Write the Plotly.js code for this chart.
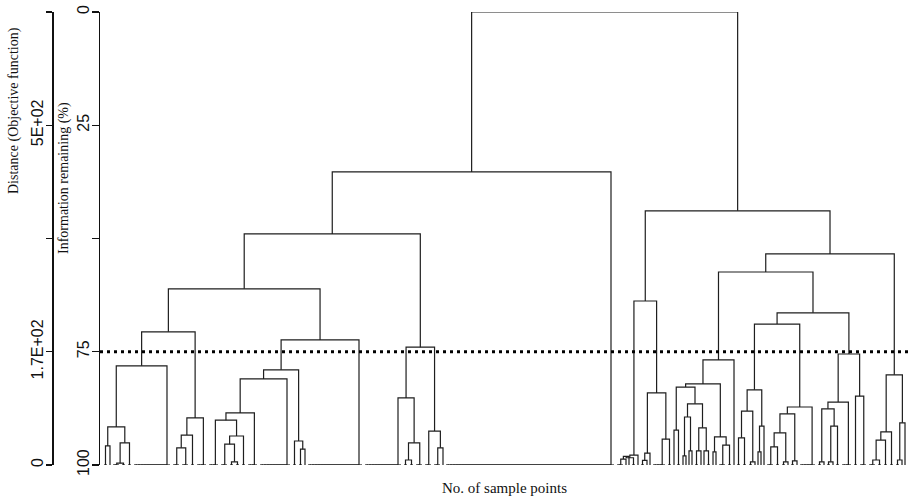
<!DOCTYPE html>
<html><head><meta charset="utf-8">
<script src="https://cdn.plot.ly/plotly-3.0.1.min.js"></script>
<style>html,body{margin:0;padding:0;background:#fff}</style>
</head><body><div id="chart" style="width:909px;height:502px"></div>
<script>
// Dendrogram.
// A node is [mergeHeight, left, right]; mergeHeight is "Information remaining (%)".
// A plain number k is a group of k samples that join at distance 0 (100 %).
const clusterA = [61.1,
  [70.6,
    [78.1,
      [91.6, [95.8, 2, 1], [95.1, [99.6, 3, 2], 2]],
      13],
    [89.6, [93.4, [96.2, 3, 3], 2], 4]],
  [72.4,
    [79.0,
      [81.0,
        [88.5, [90.1, 4, [93.6, [95.4, 3, [99.3, 2, 2]], 2]], 4],
        11],
      [94.7, 2, [96.5, 2, 1]]],
    19]];
const clusterB = [74.0,
  [85.2, 13, [95.1, [98.9, 2, 2], 3]],
  [92.5, 3, [96.2, 3, 1]]];
const leftFlatGroup = 57;
const clusterC = [63.8,
  [97.8, [98.4, [98.1, [98.7, 3, 1], 1], 2], 1],
  [84.1, [97.4, [99.0, 2, 1], 1], [94.3, 5, 2]]];
const clusterD = [57.4,
  [76.8,
    [82.1,
      [82.8,
        [92.3, 1, 2],
        [86.5,
          [89.4, [98.0, 1, 1], [96.9, 1, 1]],
          [91.8, [96.9, 2, 1], [96.9, 1, 2]]]],
      [93.8, [97.1, 1, 1], [95.6, 3, 2]]],
    1],
  [66.4,
    [68.9,
      [83.4,
        [88.1, [94.0, 2, 2], [99.3, 2, 1]],
        [91.4, [97.1, 1, 1], 1]],
      [87.2,
        [88.7, [92.9, [96.0, 3, 2], [99.3, 2, 1]], [99.1, 2, 1]],
        6]],
    [75.5,
      [86.1, [87.6, [99.3, 2, 1], [91.4, [99.3, 2, 1], 2]], 4],
      [84.8, 2, 3]]]];
const clusterE = [80.1,
  [92.7, [94.5, [98.9, 3, 2], 2], 2],
  [90.7, [98.9, 2, 1], 1]];
const branchHeights = {left: 35.3, leftInner: 49.0, right: 43.9, rightInner: 53.4, root: 0};
const cutLevel = 75;
const infoTickVals = [0, 25, 50, 75, 100];
const infoTickText = ['0', '25', '', '75', '100'];
const distTickText = ['', '5E+02', '', '1.7E+02', '0'];

const tree = [branchHeights.root,
  [branchHeights.left, [branchHeights.leftInner, clusterA, clusterB], leftFlatGroup],
  [branchHeights.right, clusterC, [branchHeights.rightInner, clusterD, clusterE]]];

const xs = [], ys = [];
let cursor = 0;
function place(node) {
  if (typeof node === 'number') {
    let x = cursor;
    for (let i = 1; i < node; i++) {
      const nx = cursor + i;
      xs.push(x, nx, null); ys.push(100, 100, null);
      x = (x + nx) / 2;
    }
    cursor += node;
    return {x: x, h: 100};
  }
  const a = place(node[1]), b = place(node[2]), h = node[0];
  xs.push(a.x, a.x, b.x, b.x, null);
  ys.push(a.h, h, h, b.h, null);
  return {x: (a.x + b.x) / 2, h: h};
}
place(tree);
const nLeaves = cursor;

const serif = 'Liberation Serif, Times New Roman, serif';
const sans = 'Liberation Sans, Arial, sans-serif';

const data = [
  {type: 'scatter', mode: 'lines', x: xs, y: ys, line: {color: '#1e1e1e', width: 1.2},
   hoverinfo: 'skip', showlegend: false, connectgaps: false},
  {type: 'scatter', mode: 'lines', x: [null], y: [null], yaxis: 'y2', showlegend: false, hoverinfo: 'skip'}
];

const layout = {
  width: 909, height: 502,
  margin: {l: 52, r: 0, t: 12, b: 37},
  paper_bgcolor: '#fff', plot_bgcolor: '#fff',
  showlegend: false,
  xaxis: {domain: [48/857, 1], range: [-1.33, nLeaves + 0.33], showgrid: false, zeroline: false,
          showline: false, showticklabels: false, ticks: '',
          title: {text: 'No. of sample points', font: {family: serif, size: 15, color: '#111'}, standoff: 17},
          automargin: false},
  yaxis: {range: [100, 0], tickvals: infoTickVals, ticktext: infoTickText, tickangle: -90,
          ticks: 'outside', ticklen: 7, tickwidth: 1.3, tickcolor: '#111',
          showline: true, linecolor: '#111', linewidth: 1.5, showgrid: false, zeroline: false,
          tickfont: {family: sans, size: 16, color: '#111'}, automargin: false, ticklabelstandoff: -4},
  yaxis2: {overlaying: 'y', anchor: 'free', position: 0, side: 'left', range: [100, 0],
          tickvals: infoTickVals, ticktext: distTickText, tickangle: -90,
          ticks: 'outside', ticklen: 6, tickwidth: 1.3, tickcolor: '#111',
          showline: true, linecolor: '#111', linewidth: 1.5, showgrid: false, zeroline: false,
          tickfont: {family: sans, size: 16, color: '#111'}, automargin: false, ticklabelstandoff: -3},
  shapes: [{type: 'line', xref: 'x domain', x0: 0, x1: 1, yref: 'y', y0: cutLevel, y1: cutLevel,
            line: {color: '#000', width: 3, dash: '3px,4px'}}],
  annotations: [
    {text: 'Information remaining (%)', xref: 'paper', yref: 'paper', x: 12/857, y: 287/453,
     textangle: -90, showarrow: false, xanchor: 'center', yanchor: 'middle',
     font: {family: serif, size: 14, color: '#111'}},
    {text: 'Distance (Objective function)', xref: 'paper', yref: 'paper', x: -38/857, y: 354/453,
     textangle: -90, showarrow: false, xanchor: 'center', yanchor: 'middle',
     font: {family: serif, size: 14, color: '#111'}}
  ]
};
Plotly.newPlot('chart', data, layout, {displayModeBar: false, staticPlot: true});
</script></body></html>
